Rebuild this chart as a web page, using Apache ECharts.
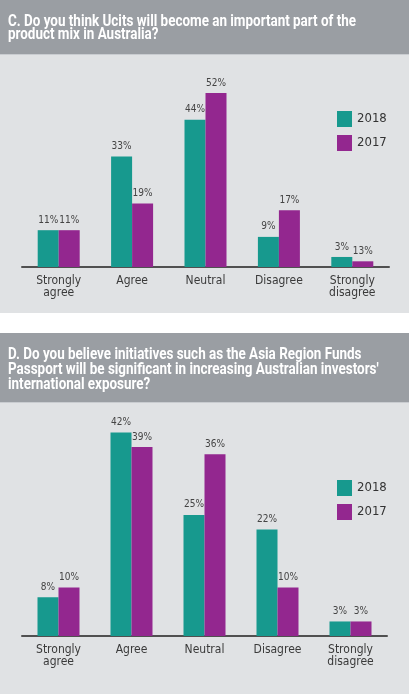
<!DOCTYPE html>
<html>
<head>
<meta charset="utf-8">
<title>Ucits and ARFP survey</title>
<script src="https://cdn.jsdelivr.net/npm/echarts@6/dist/echarts.min.js"></script>
<style>
  html, body { margin: 0; padding: 0; background: #ffffff; }
  #chart { width: 409px; height: 694px; }
</style>
</head>
<body>
<div id="chart"></div>
<script>
// answers shared by both questions
var categories = ["Strongly\nagree", "Agree", "Neutral", "Disagree", "Strongly\ndisagree"];
var years = ["2018", "2017"];

// question C: Ucits
var valuesC2018 = [11, 33, 44, 9, 3];
var valuesC2017 = [11, 19, 52, 17, 1.7]; // last bar is printed "13%" but drawn much lower
var labelsC2018 = ["11%", "33%", "44%", "9%", "3%"];
var labelsC2017 = ["11%", "19%", "52%", "17%", "13%"];

// question D: Asia Region Funds Passport
var valuesD2018 = [8, 42, 25, 22, 3];
var valuesD2017 = [10, 39, 37.5, 10, 3]; // neutral bar drawn a bit above its "36%"
var labelsD2018 = ["8%", "42%", "25%", "22%", "3%"];
var labelsD2017 = ["10%", "39%", "36%", "10%", "3%"];

var titleC = "C. Do you think Ucits will become an important part of the\nproduct mix in Australia?";
var titleD = "D. Do you believe initiatives such as the Asia Region Funds\nPassport will be significant in increasing Australian investors'\ninternational exposure?";

var TEAL = "#17998e";
var PURPLE = "#93278f";
var FONT = "'Liberation Sans Narrow', 'DejaVu Sans Condensed', 'Roboto', sans-serif";

function xAxisFor(gi) {
  return {
    type: "category",
    gridIndex: gi,
    data: categories,
    axisLine: { lineStyle: { color: "#505050", width: 2 } },
    axisTick: { show: false },
    axisLabel: { color: "#3a3a3a", fontSize: 12, fontFamily: FONT, lineHeight: 12, margin: 8, interval: 0 }
  };
}

function yAxisFor(gi, max) {
  return { type: "value", gridIndex: gi, min: 0, max: max, show: false, splitLine: { show: false } };
}

function barSeries(name, gi, values, labels, color) {
  return {
    name: name,
    type: "bar",
    xAxisIndex: gi,
    yAxisIndex: gi,
    data: values,
    barWidth: 21,
    barGap: "0%",
    itemStyle: { color: color },
    label: {
      show: true,
      position: "top",
      distance: 5,
      color: "#444",
      fontSize: 10,
      fontFamily: FONT,
      formatter: function (p) { return labels[p.dataIndex]; }
    }
  };
}

function legendFor(top) {
  return {
    data: years,
    orient: "vertical",
    left: 337,
    top: top,
    padding: 0,
    itemWidth: 15,
    itemHeight: 16,
    itemGap: 8,
    icon: "rect",
    selectedMode: false,
    textStyle: { color: "#333", fontSize: 13, fontFamily: FONT }
  };
}

// header text, squeezed to the narrow face of the original
function header(text, y, lh) {
  return {
    type: "text",
    x: 8,
    y: y,
    scaleX: 0.84,
    style: { text: text, fill: "#ffffff", font: "bold 16px Roboto, sans-serif", lineHeight: lh }
  };
}

var chart = echarts.init(document.getElementById("chart"));
chart.setOption({
  animation: false,
  color: [TEAL, PURPLE],
  graphic: [
    { type: "rect", z: -10, shape: { x: 0, y: 0, width: 409, height: 54 }, style: { fill: "#9a9ea3" } },
    { type: "rect", z: -10, shape: { x: 0, y: 54, width: 409, height: 259 }, style: { fill: "#e0e2e4" } },
    { type: "rect", z: -9, shape: { x: 0, y: 54, width: 409, height: 1 }, style: { fill: "#c9ccd0" } },
    { type: "rect", z: -10, shape: { x: 0, y: 333, width: 409, height: 69 }, style: { fill: "#9a9ea3" } },
    { type: "rect", z: -10, shape: { x: 0, y: 402, width: 409, height: 292 }, style: { fill: "#e0e2e4" } },
    { type: "rect", z: -9, shape: { x: 0, y: 402, width: 409, height: 1 }, style: { fill: "#c9ccd0" } },
    header(titleC, 15, 13.5),
    header(titleD, 347, 15)
  ],
  legend: [legendFor(111), legendFor(480)],
  grid: [
    { left: 22, right: 20, top: 83, bottom: 427 },
    { left: 22, right: 22, top: 418, bottom: 58 }
  ],
  xAxis: [xAxisFor(0), xAxisFor(1)],
  yAxis: [yAxisFor(0, 55), yAxisFor(1, 45)],
  series: [
    barSeries(years[0], 0, valuesC2018, labelsC2018, TEAL),
    barSeries(years[1], 0, valuesC2017, labelsC2017, PURPLE),
    barSeries(years[0], 1, valuesD2018, labelsD2018, TEAL),
    barSeries(years[1], 1, valuesD2017, labelsD2017, PURPLE)
  ]
});
</script>
</body>
</html>
